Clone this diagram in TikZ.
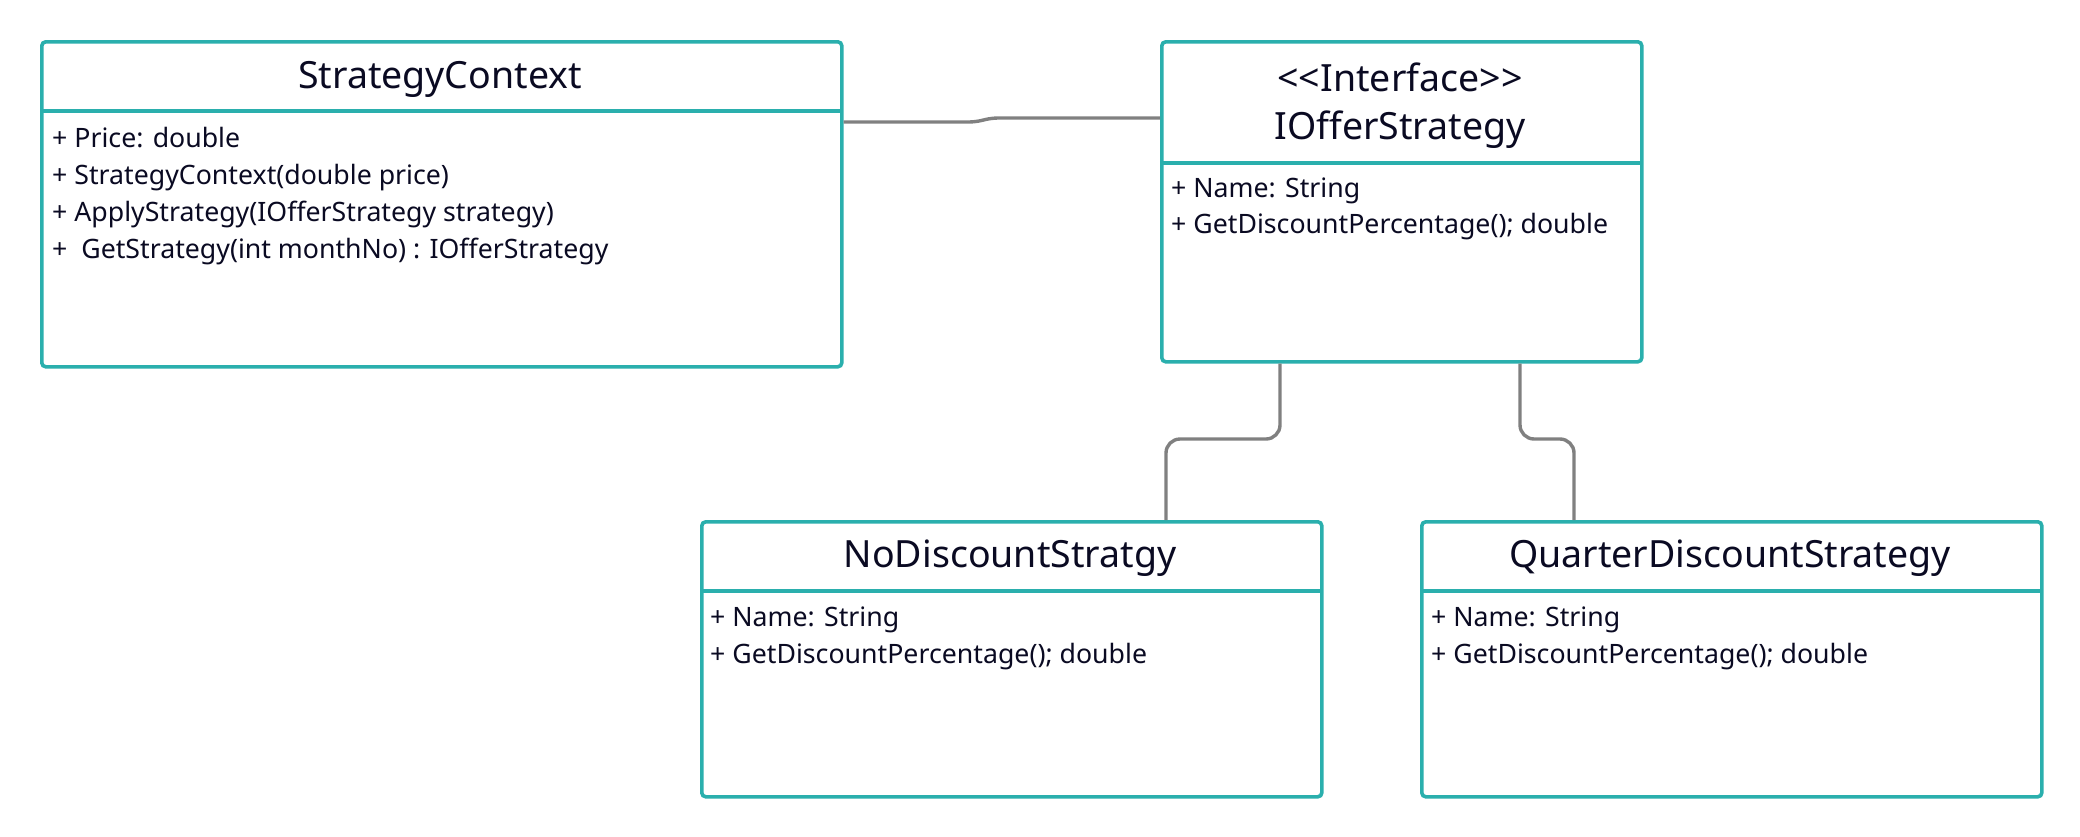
\documentclass[tikz,border=0pt]{standalone}
\usepackage{fontspec}
\newfontfamily\umlfont{Noto Sans}
\definecolor{boxteal}{HTML}{2AAFAD}
\definecolor{conngray}{HTML}{808080}
\definecolor{ink}{HTML}{0A0A22}
\tikzset{
  cls/.style={draw=boxteal, line width=3.6pt, rounded corners=4pt, fill=white, anchor=north west, inner sep=0pt},
  divider/.style={draw=boxteal, line width=3.6pt},
  title/.style={text=ink, font=\umlfont\fontsize{37.5}{44}\selectfont, inner sep=0pt},
  member/.style={text=ink, font=\umlfont\fontsize{26.7}{32}\selectfont, anchor=mid west, inner sep=0pt},
  conn/.style={draw=conngray, line width=3.4pt, rounded corners=14pt}
}
\begin{document}
\begin{tikzpicture}[x=1pt,y=-1pt]
\useasboundingbox[fill=white] (0,0) rectangle (2080,836);

% StrategyContext
\node[cls, minimum width=800pt, minimum height=325pt] (ctx) at (40,40) {};
\draw[divider] (40,111) -- (840,111);
\node[title] (ctxT) at (440,79) {StrategyContext};
\node[member] (ctx1) at (52,145) {+ Price: double};
\node[member] (ctx2) at (52,182) {+ StrategyContext(double price)};
\node[member] (ctx3) at (52,219) {+ ApplyStrategy(IOfferStrategy strategy)};
\node[member] (ctx4) at (52,256) {+\ \ GetStrategy(int monthNo) : IOfferStrategy};

% IOfferStrategy
\node[cls, minimum width=480pt, minimum height=320pt] (ios) at (1160,40) {};
\draw[divider] (1160,163) -- (1640,163);
\node[title] (iosS) at (1400,77) {<\kern0pt<Interface>\kern0pt>};
\node[title] (iosT) at (1400,130) {IOfferStrategy};
\node[member] (ios1) at (1171,195) {+ Name: String};
\node[member] (ios2) at (1171,231) {+ GetDiscountPercentage(); double};

% NoDiscountStratgy
\node[cls, minimum width=620pt, minimum height=275pt] (nds) at (700,520) {};
\draw[divider] (700,591) -- (1320,591);
\node[title] (ndsT) at (1010,558) {NoDiscountStratgy};
\node[member] (nds1) at (710,624) {+ Name: String};
\node[member] (nds2) at (710,661) {+ GetDiscountPercentage(); double};

% QuarterDiscountStrategy
\node[cls, minimum width=620pt, minimum height=275pt] (qds) at (1420,520) {};
\draw[divider] (1420,591) -- (2040,591);
\node[title] (qdsT) at (1730,558) {QuarterDiscountStrategy};
\node[member] (qds1) at (1431,624) {+ Name: String};
\node[member] (qds2) at (1431,661) {+ GetDiscountPercentage(); double};

% connectors
\path (ctx.north east) ++(0,82) coordinate (c1s);
\path (ios.north west) ++(0,78) coordinate (c1e);
\draw[conn, rounded corners=6pt] (c1s) -- (975,122) -- (992,118) -- (c1e);

\path (ios.south west) ++(120,0) coordinate (c2s);
\path (nds.north west) ++(466,0) coordinate (c2e);
\draw[conn] (c2s) -- (1280,439) -- (1166,439) -- (c2e);

\path (ios.south west) ++(360,0) coordinate (c3s);
\path (qds.north west) ++(154,0) coordinate (c3e);
\draw[conn] (c3s) -- (1520,439) -- (1574,439) -- (c3e);
\end{tikzpicture}
\end{document}
